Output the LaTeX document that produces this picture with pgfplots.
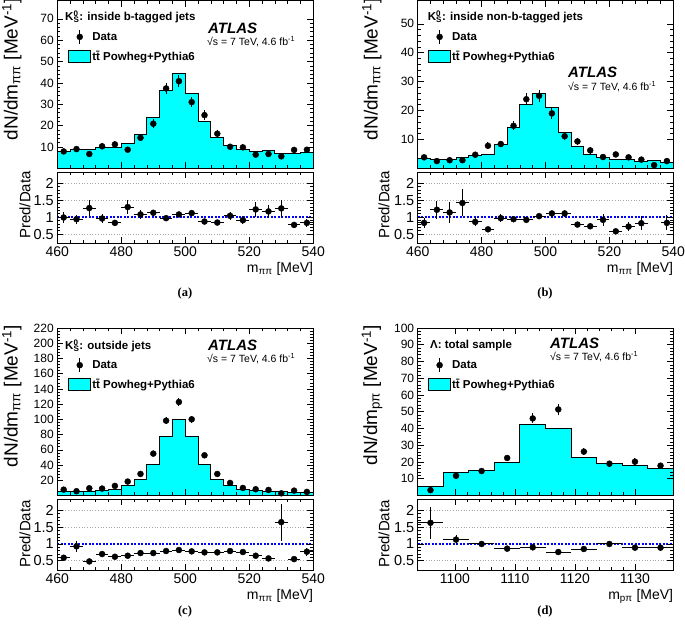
\documentclass[border=0pt]{standalone}
\usepackage{fontspec}
\setmainfont{Liberation Sans}
\newfontfamily\sbold{Liberation Sans Bold}
\newfontfamily\sbolditalic{Liberation Sans Bold Italic}
\newfontfamily\tbold{Liberation Serif Bold}
\usepackage{pgfplots}
\pgfplotsset{compat=1.18}
\definecolor{rootcyan}{RGB}{0,255,255}
\pgfplotsset{
 common/.style={scale only axis, axis on top, tick align=inside, tick pos=both,
   major tick length=6pt, minor tick length=3pt,
   axis line style={line width=0.8pt}, every tick/.append style={line width=0.6pt, black},
   /pgf/number format/assume math mode=true, /pgf/number format/1000 sep={}, clip=true},
 mainax/.style={common, height=167.6pt, ymin=0, minor x tick num=4, minor y tick num=4, xticklabels={},
   yticklabel style={font=\fontsize{12}{14}\selectfont},
   legend style={draw=none, fill=none, anchor=north west, font=\sbold\fontsize{11.5}{13}\selectfont,
     row sep=5.5pt, inner sep=0pt, nodes={inner sep=1pt}},
   legend cell align=left},
 ratio/.style={common, height=71pt, ymin=0.225, ymax=2.33, ytick={0.5,1,1.5,2}, yticklabels={0.5,1,1.5,2},
   minor y tick num=4, minor x tick num=4,
   yticklabel style={font=\fontsize{14.5}{16}\selectfont}, xticklabel style={font=\fontsize{14}{16}\selectfont},
   xlabel style={at={(axis description cs:1,0)}, anchor=north east, inner sep=0pt, yshift=-19pt, font=\fontsize{14}{16}\selectfont}},
 Kx/.style={width=256pt, xmin=460, xmax=540, xtick={460,480,...,540}},
 Lx/.style={width=255.6pt, xmin=1093.8, xmax=1136.4, xtick={1100,1110,1120,1130}},
 mchist/.style={const plot, fill=rootcyan, draw=black, line width=1pt, forget plot},
 datapts/.style={only marks, mark=*, mark size=3pt, black, forget plot,
   error bars/.cd, y dir=both, y explicit, error mark=none, error bar style={line width=1pt}},
 ratiopts/.style={only marks, mark=*, mark size=3pt, black, forget plot,
   error bars/.cd, y dir=both, y explicit, x dir=both, x explicit, error mark=none, error bar style={line width=1pt}},
 dataleg/.style={legend image code/.code={\draw[line width=1pt] (11pt,-7pt)--(11pt,7pt); \fill (11pt,0pt) circle (3pt);}},
 mcleg/.style={legend image code/.code={\draw[fill=rootcyan, line width=1pt] (0pt,-6pt) rectangle (22pt,6pt);}},
 grid1/.style={gray!70, dotted, line width=0.7pt, forget plot},
 oneline/.style={blue, line width=2pt, dash pattern=on 2pt off 1.5pt, forget plot},
}
\newcommand{\Kshort}{K\rlap{\textsuperscript{0}}\textsubscript{S}}
\newcommand{\legendtwo}{\addlegendimage{dataleg}\addlegendentry{Data}\addlegendimage{mcleg}\addlegendentry{t\={t} Powheg+Pythia6}}
\begin{document}
\begin{tikzpicture}
\useasboundingbox (0pt,0pt) rectangle (685pt,624pt);
% ================= (a) =================
\begin{axis}[mainax, Kx, at={(57.3pt,455.7pt)}, anchor=south west, ymax=78.5, ytick={10,20,...,70},
  legend style={at={(axis description cs:0.042,0.83)}}]
\addplot[mchist] coordinates {(460,8.1)(464,8.7)(468,8.9)(472,9.7)(476,9.7)(480,11.5)(484,15.6)(488,23.8)(492,36.4)(496,44.2)(500,34.9)(504,21.8)(508,14.2)(512,10.9)(516,9.0)(520,8.1)(524,8.3)(528,6.9)(532,6.7)(536,7.5)(540,7.5)} \closedcycle;
\addplot[datapts] table[x index=0, y index=1, y error index=2] {
462 7.9 1.3
466 9.0 1.3
470 6.7 1.2
474 10.3 1.4
478 11.2 1.5
482 8.7 1.3
486 14.3 1.7
490 20.9 2.0
494 37.4 2.7
498 40.8 2.8
502 31.0 2.5
506 24.9 2.2
510 16.2 1.8
514 10.1 1.4
518 9.8 1.4
522 6.4 1.2
526 6.7 1.2
530 5.6 1.1
534 8.6 1.3
538 8.7 1.3
};
\legendtwo
\end{axis}
\begin{axis}[ratio, Kx, at={(57.3pt,380.7pt)}, anchor=south west, xlabel={m\textsubscript{ππ} [MeV]}]
\addplot[grid1] coordinates {(460,0.5)(540,0.5)};
\addplot[grid1] coordinates {(460,1.5)(540,1.5)};
\addplot[grid1] coordinates {(460,2)(540,2)};
\addplot[oneline] coordinates {(460,1)(540,1)};
\addplot[ratiopts] table[x index=0, y index=1, x error index=2, y error index=3] {
462 0.99 2 0.15
466 0.94 2 0.13
470 1.27 2 0.24
474 0.96 2 0.12
478 0.83 2 0.10
482 1.30 2 0.22
486 1.08 2 0.12
490 1.13 2 0.09
494 0.97 2 0.06
498 1.08 2 0.06
502 1.12 2 0.07
506 0.87 2 0.06
510 0.84 2 0.07
514 1.04 2 0.12
518 0.91 2 0.12
522 1.23 2 0.22
526 1.17 2 0.18
530 1.26 2 0.25
534 0.77 2 0.10
538 0.83 2 0.11
};
\end{axis}
% ================= (b) =================
\begin{axis}[mainax, Kx, width=255.6pt, at={(417.7pt,455.7pt)}, anchor=south west, ymax=58, ytick={10,20,...,50},
  legend style={at={(axis description cs:0.040,0.83)}}]
\addplot[mchist] coordinates {(460,3.3)(464,3.1)(468,3.1)(472,3.8)(476,4.3)(480,4.9)(484,8.4)(488,14.0)(492,22.2)(496,26.0)(500,21.0)(504,12.4)(508,7.7)(512,4.8)(516,3.8)(520,3.0)(524,2.9)(528,2.4)(532,2.6)(536,2.1)(540,2.1)} \closedcycle;
\addplot[datapts] table[x index=0, y index=1, y error index=2] {
462 3.8 0.9
466 2.5 0.7
470 2.8 0.8
474 2.8 0.8
478 4.7 1.0
482 7.8 1.2
486 8.4 1.2
490 14.7 1.6
494 23.9 2.0
498 25.1 2.0
502 19.0 1.8
506 11.1 1.4
510 9.3 1.3
514 6.2 1.1
518 3.9 0.9
522 4.8 1.0
526 3.8 0.9
530 3.0 0.8
534 1.1 0.5
538 2.5 0.7
};
\legendtwo
\end{axis}
\begin{axis}[ratio, Kx, width=255.6pt, at={(417.7pt,380.7pt)}, anchor=south west, xlabel={m\textsubscript{ππ} [MeV]}]
\addplot[grid1] coordinates {(460,0.5)(540,0.5)};
\addplot[grid1] coordinates {(460,1.5)(540,1.5)};
\addplot[grid1] coordinates {(460,2)(540,2)};
\addplot[oneline] coordinates {(460,1)(540,1)};
\addplot[ratiopts] table[x index=0, y index=1, x error index=2, y error index=3] {
462 0.83 2 0.15
466 1.22 2 0.26
470 1.14 2 0.30
474 1.42 2 0.40
478 0.86 2 0.13
482 0.64 2 0.07
486 0.97 2 0.12
490 0.94 2 0.08
494 0.92 2 0.06
498 1.03 2 0.06
502 1.11 2 0.07
506 1.11 2 0.11
510 0.78 2 0.08
514 0.73 2 0.09
518 0.92 2 0.18
522 0.58 2 0.08
526 0.72 2 0.13
530 0.82 2 0.20
538 0.83 2 0.22
};
\end{axis}
% ================= (c) =================
\begin{axis}[mainax, Kx, height=167.5pt, at={(57.3pt,128.5pt)}, anchor=south west, ymax=220, ytick={20,40,...,220},
  legend style={at={(axis description cs:0.042,0.824)}}]
\addplot[mchist] coordinates {(460,4.7)(464,4.7)(468,4.7)(472,6.4)(476,8.2)(480,12.6)(484,21.3)(488,40.6)(492,76.9)(496,99.2)(500,76.9)(504,40.2)(508,20.9)(512,12.6)(516,7.8)(520,6.4)(524,4.7)(528,4.7)(532,4.2)(536,3.8)(540,3.8)} \closedcycle;
\addplot[datapts] table[x index=0, y index=1, y error index=2] {
462 7.7 1.2
466 5.6 1.0
470 9.5 1.3
474 9.1 1.3
478 12.6 1.5
482 18.3 1.9
486 28.3 2.4
490 55.0 3.3
494 98.3 4.5
498 122.8 5.0
502 100.1 4.5
506 52.8 3.3
510 28.3 2.4
514 16.5 1.8
518 9.9 1.4
522 8.2 1.3
526 7.3 1.2
530 2.9 0.8
534 6.4 1.1
538 4.7 1.0
};
\legendtwo
\end{axis}
\begin{axis}[ratio, Kx, height=70.7pt, at={(57.3pt,54pt)}, anchor=south west, xlabel={m\textsubscript{ππ} [MeV]}]
\addplot[grid1] coordinates {(460,0.5)(540,0.5)};
\addplot[grid1] coordinates {(460,1.5)(540,1.5)};
\addplot[grid1] coordinates {(460,2)(540,2)};
\addplot[oneline] coordinates {(460,1)(540,1)};
\addplot[ratiopts] table[x index=0, y index=1, x error index=2, y error index=3] {
462 0.59 2 0.07
466 0.93 2 0.17
470 0.48 2 0.04
474 0.70 2 0.08
478 0.62 2 0.05
482 0.65 2 0.04
486 0.73 2 0.03
490 0.73 2 0.03
494 0.79 2 0.03
498 0.82 2 0.03
502 0.78 2 0.03
506 0.75 2 0.03
510 0.75 2 0.04
514 0.79 2 0.05
518 0.76 2 0.07
522 0.65 2 0.07
526 0.57 2 0.06
530 1.65 2 0.55
534 0.55 2 0.07
538 0.77 2 0.12
};
\end{axis}
% ================= (d) =================
\begin{axis}[mainax, Lx, height=167.5pt, at={(417.7pt,128.5pt)}, anchor=south west, ymax=100, ytick={10,20,...,100},
  legend style={at={(axis description cs:0.040,0.824)}}]
\addplot[mchist] coordinates {(1093.8,5.4)(1098.06,13.6)(1102.32,14.8)(1106.58,19.8)(1110.84,42.4)(1115.10,40.0)(1119.36,22.6)(1123.62,19.2)(1127.88,18.2)(1132.14,16.4)(1136.40,16.4)} \closedcycle;
\addplot[datapts] table[x index=0, y index=1, y error index=2] {
1095.93 3.2 1.5
1100.19 11.8 1.5
1104.45 14.6 1.6
1108.71 22.4 2.0
1112.97 46.0 3.0
1117.23 51.4 3.4
1121.49 26.2 2.2
1125.75 19.0 1.8
1130.01 20.2 1.9
1134.27 17.8 1.8
};
\legendtwo
\end{axis}
\begin{axis}[ratio, Lx, height=70.7pt, at={(417.7pt,54pt)}, anchor=south west, xlabel={m\textsubscript{pπ} [MeV]}]
\addplot[grid1] coordinates {(1093.8,0.5)(1136.4,0.5)};
\addplot[grid1] coordinates {(1093.8,1.5)(1136.4,1.5)};
\addplot[grid1] coordinates {(1093.8,2)(1136.4,2)};
\addplot[oneline] coordinates {(1093.8,1)(1136.4,1)};
\addplot[ratiopts] table[x index=0, y index=1, x error index=2, y error index=3] {
1095.93 1.63 2.13 0.47
1100.19 1.13 2.13 0.15
1104.45 1.00 2.13 0.09
1108.71 0.86 2.13 0.06
1112.97 0.90 2.13 0.05
1117.23 0.76 2.13 0.05
1121.49 0.85 2.13 0.06
1125.75 1.00 2.13 0.09
1130.01 0.89 2.13 0.08
1134.27 0.89 2.13 0.09
};
\end{axis}
% ================= texts =================
\tikzset{hdr/.style={anchor=west, inner sep=0pt, font=\sbold\fontsize{11.5}{13}\selectfont},
  atl/.style={anchor=west, inner sep=0pt, font=\sbolditalic\fontsize{15}{17}\selectfont},
  sqs/.style={anchor=west, inner sep=0pt, font=\fontsize{10.5}{12}\selectfont},
  ylab/.style={rotate=90, anchor=east, inner sep=0pt, font=\fontsize{19}{22}\selectfont},
  rlab/.style={rotate=90, anchor=east, inner sep=0pt, font=\fontsize{15}{17}\selectfont},
  plab/.style={inner sep=0pt, font=\tbold\fontsize{12.5}{14}\selectfont}}
% (a)
\node[hdr] at (65pt,607pt) {\Kshort: inside b-tagged jets};
\node[atl] at (208pt,596pt) {ATLAS};
\node[sqs] at (207pt,582pt) {√s = 7 TeV, 4.6 fb\textsuperscript{-1}};
\node[ylab] at (12pt,626pt) {dN/dm\textsubscript{ππ} [MeV\textsuperscript{-1}]};
\node[rlab] at (25pt,453pt) {Pred/Data};
\node[plab] at (185pt,331pt) {(a)};
% (b)
\node[hdr] at (427.7pt,607pt) {\Kshort: inside non-b-tagged jets};
\node[atl] at (568pt,551.3pt) {ATLAS};
\node[sqs] at (568pt,537pt) {√s = 7 TeV, 4.6 fb\textsuperscript{-1}};
\node[ylab] at (372pt,626pt) {dN/dm\textsubscript{ππ} [MeV\textsuperscript{-1}]};
\node[rlab] at (384pt,453pt) {Pred/Data};
\node[plab] at (545pt,331pt) {(b)};
% (c)
\node[hdr] at (65pt,278.3pt) {\Kshort: outside jets};
\node[atl] at (208pt,278.3pt) {ATLAS};
\node[sqs] at (207pt,265.7pt) {√s = 7 TeV, 4.6 fb\textsuperscript{-1}};
\node[ylab] at (12pt,299pt) {dN/dm\textsubscript{ππ} [MeV\textsuperscript{-1}]};
\node[rlab] at (25pt,124pt) {Pred/Data};
\node[plab] at (185pt,12.3pt) {(c)};
% (d)
\node[hdr] at (430pt,278.3pt) {Λ: total sample};
\node[atl] at (550pt,281pt) {ATLAS};
\node[sqs] at (550pt,267.3pt) {√s = 7 TeV, 4.6 fb\textsuperscript{-1}};
\node[ylab] at (372pt,299pt) {dN/dm\textsubscript{pπ} [MeV\textsuperscript{-1}]};
\node[rlab] at (384pt,124pt) {Pred/Data};
\node[plab] at (545pt,12.3pt) {(d)};
\end{tikzpicture}
\end{document}
